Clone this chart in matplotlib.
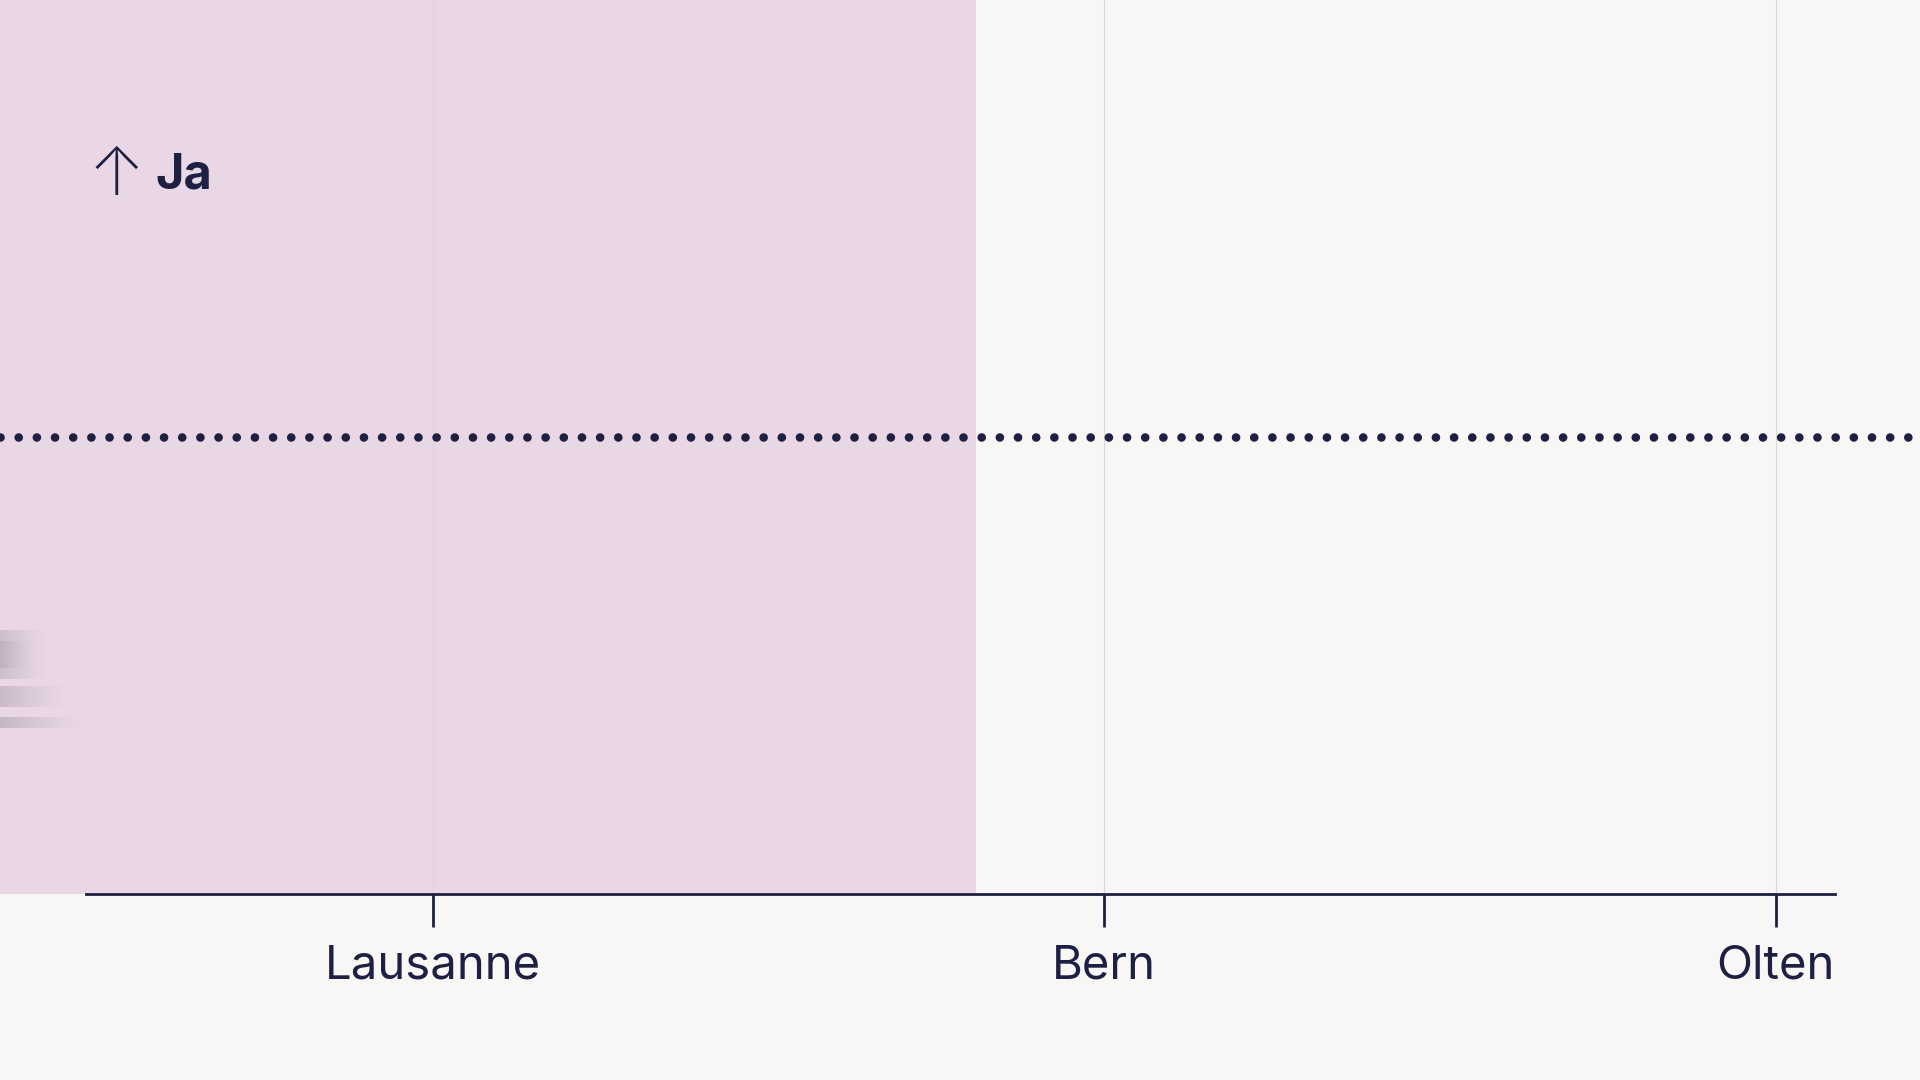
import numpy as np
import matplotlib
matplotlib.use('Agg')
import matplotlib.pyplot as plt

# ---- data ----
stations = ['Lausanne', 'Bern', 'Olten']
station_pos = [1, 2, 3]
ja_threshold = 50          # dotted reference line
shade_end = 1.809          # end of the "Ja" shaded section
y_label = 'Ja'

BG = '#f8f7f5'
INK = '#1e2043'
PINK = '#e9d7e6'
GRID = '#d9d5d9'

plt.rcParams['font.family'] = ['Inter', 'DejaVu Sans']

fig = plt.figure(figsize=(19.2, 10.8), dpi=100, facecolor=BG)
ax = fig.add_axes([0, 0.1718, 1, 0.8282])
ax.set_facecolor(BG)

# x scale: Lausanne at 432.7px, 671.5px per station
px = 671.5
ax.set_xlim(1 - 432.7 / px, 1 + (1920 - 432.7) / px)
ax.set_ylim(0, 97.8)

ax.axvspan(ax.get_xlim()[0], shade_end, color=PINK, lw=0, zorder=0)
for x in station_pos:
    ax.axvline(x, color=GRID, lw=0.8, zorder=1)

ax.axhline(ja_threshold, color=INK, lw=6.2, ls=(0, (0.01, 2.1)),
           dash_capstyle='round', zorder=3)

for s in ['top', 'right', 'left']:
    ax.spines[s].set_visible(False)
ax.spines['bottom'].set_color(INK)
ax.spines['bottom'].set_linewidth(2)
ax.spines['bottom'].set_bounds(1 + (86 - 432.7) / px, 1 + (1835 - 432.7) / px)
ax.spines['bottom'].set_zorder(4)

ax.set_xticks(station_pos)
ax.set_xticklabels(stations)
ax.tick_params(axis='x', length=24, width=2, color=INK, pad=12,
               labelsize=34, labelcolor=INK)
ax.set_yticks([])

ax.text(0.0605, 0.801, '\u2191', transform=ax.transAxes, fontsize=48,
        color=INK, ha='center', va='center', fontweight='light',
        family=['Inter', 'DejaVu Sans'])
ax.text(0.081, 0.804, y_label, transform=ax.transAxes, fontsize=35,
        fontweight='bold', color=INK, ha='left', va='center')

# motion-blur remnant at the left edge
deco = fig.add_axes([0, 0, 1, 1], zorder=5)
deco.set_xlim(0, 1920)
deco.set_ylim(1080, 0)
deco.axis('off')
for x0, x1, y0, y1, a in [(0, 50, 630, 679, 0.22), (0, 32, 641, 668, 0.15),
                          (0, 70, 686, 707, 0.25), (0, 84, 717, 728, 0.3)]:
    fade = np.linspace(1, 0, 64) ** 1.3 * a
    rgba = np.zeros((1, 64, 4))
    rgba[..., :3] = matplotlib.colors.to_rgb('#6f6872')
    rgba[0, :, 3] = fade
    deco.imshow(rgba, extent=(x0, x1, y1, y0), aspect='auto',
                interpolation='bilinear')

fig.savefig('out.png', dpi=100, facecolor=BG)
